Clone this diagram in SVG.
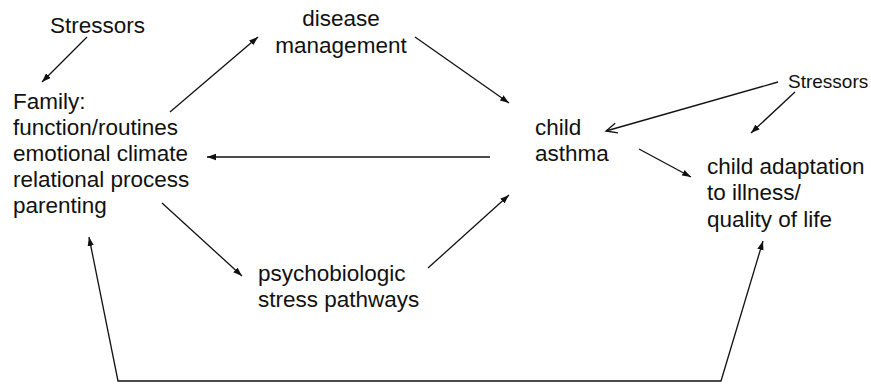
<svg xmlns="http://www.w3.org/2000/svg" width="871" height="385" viewBox="0 0 871 385">
<style>
text{font-family:"Liberation Sans",Arial,sans-serif;font-size:22.5px;fill:#111}
.small{font-size:19px}
.c{stroke:#111;stroke-width:1.3;fill:none}
</style>
<defs>
<marker id="ah" markerUnits="userSpaceOnUse" markerWidth="10" markerHeight="8" refX="9" refY="4" orient="auto-start-reverse">
<path d="M0,0.8 L9,4 L0,7.2 Z" fill="#111"/>
</marker>
<marker id="open" markerUnits="userSpaceOnUse" markerWidth="14" markerHeight="12" refX="12" refY="6" orient="auto">
<path d="M1,1 L12,6 L1,11" fill="none" stroke="#111" stroke-width="1.3"/>
</marker>
</defs>
<rect width="871" height="385" fill="#fff"/>
<g id="stressors-left"><text x="50" y="33">Stressors</text></g>
<g id="family">
<text x="13" y="109">Family:</text>
<text x="13" y="135">function/routines</text>
<text x="13" y="161">emotional climate</text>
<text x="13" y="187">relational process</text>
<text x="13" y="213">parenting</text>
</g>
<g id="disease-management">
<text x="341" y="26" text-anchor="middle">disease</text>
<text x="341" y="53" text-anchor="middle">management</text>
</g>
<g id="child-asthma">
<text x="535" y="135">child</text>
<text x="535" y="161">asthma</text>
</g>
<g id="psychobiologic">
<text x="258" y="281">psychobiologic</text>
<text x="258" y="307">stress pathways</text>
</g>
<g id="stressors-right"><text class="small" x="788" y="88">Stressors</text></g>
<g id="child-adaptation">
<text x="707" y="174">child adaptation</text>
<text x="707" y="200">to illness/</text>
<text x="707" y="227">quality of life</text>
</g>
<g id="connectors">
<line class="c" x1="87" y1="37" x2="42" y2="82" marker-end="url(#ah)"/>
<line class="c" x1="170" y1="112" x2="258" y2="37" marker-end="url(#ah)"/>
<line class="c" x1="415" y1="37" x2="509" y2="103" marker-end="url(#ah)"/>
<line class="c" x1="490" y1="157" x2="207" y2="157" marker-end="url(#ah)"/>
<line class="c" x1="162" y1="203" x2="242" y2="276" marker-end="url(#ah)"/>
<line class="c" x1="428" y1="268" x2="509" y2="195" marker-end="url(#ah)"/>
<line class="c" x1="778" y1="82" x2="606" y2="131" marker-end="url(#open)"/>
<line class="c" x1="795" y1="92" x2="751" y2="133" marker-end="url(#ah)"/>
<line class="c" x1="639" y1="149" x2="691" y2="177" marker-end="url(#ah)"/>
<polyline class="c" points="89,237 118,381 721,381 763,241" marker-start="url(#ah)" marker-end="url(#ah)"/>
</g>
</svg>
